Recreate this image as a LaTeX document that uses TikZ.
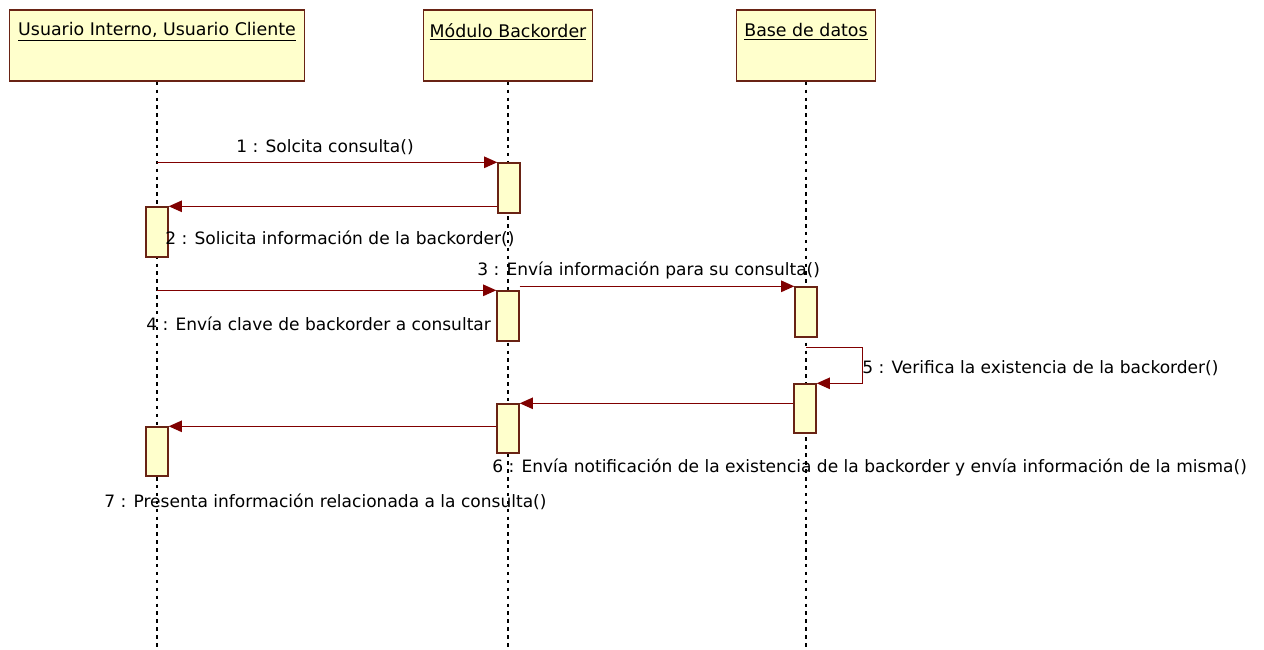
\documentclass[tikz,border=0pt]{standalone}
\usepackage{fontspec}
\setmainfont{DejaVu Sans}
\usetikzlibrary{arrows.meta,calc}

\definecolor{boxfill}{RGB}{255,255,204}
\definecolor{boxline}{RGB}{105,35,20}
\definecolor{msgline}{RGB}{128,0,0}

\tikzset{
  head/.style={draw=boxline,fill=boxfill,line width=.8pt,minimum height=1.42cm,inner sep=0pt},
  act/.style={draw=boxline,fill=boxfill,line width=.8pt,minimum width=.44cm,inner sep=0pt},
  lifeline/.style={black,line width=.7pt,dash pattern=on 2pt off 2.5pt},
  msg/.style={msgline,line width=.8pt,-{Triangle[length=7.5pt,width=6.5pt]}},
  lbl/.style={inner sep=0pt,anchor=west,font=\fontsize{9.7}{11}\selectfont}
}

\begin{document}
\begin{tikzpicture}[x=0.02cm,y=-0.02cm]
        \useasboundingbox (0,0) rectangle (1264,649);

        % lifeline heads
        \node[head,minimum width=5.9cm]  (h1) at (157,45.5) {};
        \node[head,minimum width=3.38cm] (h2) at (508,45.5) {};
        \node[head,minimum width=2.78cm] (h3) at (806,45.5) {};
        \begin{scope}[every node/.style={inner sep=0pt,font=\fontsize{9.9}{11}\selectfont}]
          \node (t1) at (157,32) {\underline{Usuario Interno, Usuario Cliente}};
          \node (t2) at (508,32) {\underline{Módulo Backorder}};
          \node (t3) at (806,32) {\underline{Base de datos}};
        \end{scope}

        \draw[lifeline] (h1.south) -- (h1.south |- 0,649);
        \draw[lifeline] (h2.south) -- (h2.south |- 0,649);
        \draw[lifeline] (h3.south) -- (h3.south |- 0,649);

        % activations
        \node[act,minimum height=1cm]  (a1) at (509,188)   {};
        \node[act,minimum height=1cm]  (a2) at (157,232)   {};
        \node[act,minimum height=1cm]  (a3) at (508,316)   {};
        \node[act,minimum height=1cm]  (a4) at (806,312)   {};
        \node[act,minimum height=.98cm] (a5) at (805,408.5) {};
        \node[act,minimum height=.98cm] (a6) at (508,428.5) {};
        \node[act,minimum height=.98cm] (a7) at (157,451.5) {};

        % messages
        \draw[msg] (a1.north west -| h1.south) -- (a1.north west);
        \draw[msg] (a2.north east -| a1.west) -- (a2.north east);
        \draw[msg] (a3.north west -| h1.south) -- (a3.north west);
        \draw[msg] (a4.north west -| a3.east) -- (a4.north west);
        \draw[msg] ($(a4.south)+(0,10)$) -| ($(a5.north east)+(46,0)$) -- (a5.north east);
        \draw[msg] (a6.north east -| a5.west) -- (a6.north east);
        \draw[msg] (a7.north east -| a6.west) -- (a7.north east);

        % labels
        \node[lbl,anchor=center] (m1) at (325,147) {1 : Solcita consulta()};
        \node[lbl] (m2) at (165,239) {2 : Solicita información de la backorder()};
        \node[lbl] (m3) at (477,270) {3 : Envía información para su consulta()};
        \node[lbl] (m4) at (146,324) {4 : Envía clave de backorder a consultar};
        \node[lbl] (m5) at (862,368) {5 : Verifica la existencia de la backorder()};
        \node[lbl] (m6) at (492,467) {6 : Envía notificación de la existencia de la backorder y envía información de la misma()};
        \node[lbl] (m7) at (104,502) {7 : Presenta información relacionada a la consulta()};
\end{tikzpicture}
\end{document}
